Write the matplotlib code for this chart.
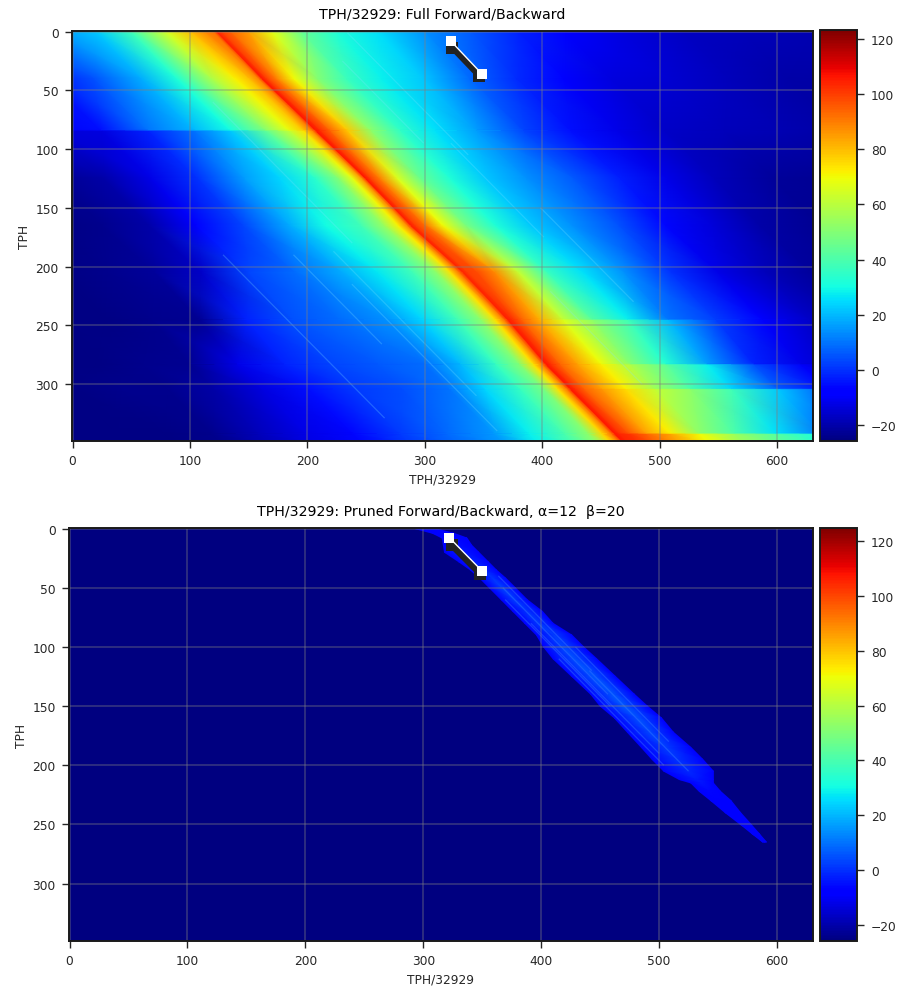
import numpy as np
import matplotlib
matplotlib.use("Agg")
import matplotlib.pyplot as plt

W, H = 904, 987

# ---- top panel: values along the diagonal bands, offset = x - 0.99*y
offsets = [-350,-300,-260,-220,-180,-140,-100,-60,-20,20,50,80,100,112,120,123,127,135,150,170,195,225,260,300,340,380,420,470,520,570,630]
shear = 0.99
row_y     = [0, 40, 84, 85, 125, 165, 205, 245, 246, 283, 284, 304, 305, 342, 343, 350]
row_shift = [0, -1, 1, 1, 3, 2, 7, 5, 5, 0, 0, 0, 0, 0, 0, 0]
r0   = [5,5,5,5,5,5,8,10,14,22,38,65,80,88,92,104,100,94,85,68,45,32,26,14,6,-2,-8,-13,-17,-18,-19]
r40  = [-5,-5,-5,-5,-5,-5,-5,-4,5,18,32,58,72,80,90,106,100,90,70,50,37,28,22,8,-1,-8,-13,-15,-18,-20,-21]
r84  = [-12,-12,-12,-12,-12,-12,-10,-5,10,20,30,50,68,78,92,106,102,94,78,52,35,26,16,3,-5,-12,-16,-18,-19,-21,-22]
r85  = [-14,-14,-14,-14,-14,-14,-14,-13,-2,10,22,44,62,74,90,106,102,94,78,52,35,26,16,3,-5,-12,-16,-18,-19,-21,-22]
r125 = [-23,-23,-23,-23,-23,-23,-20,-12,0,16,24,34,50,68,88,106,100,90,66,45,32,22,14,6,-3,-12,-18,-22,-23,-24,-24]
r165 = [-25,-25,-25,-25,-25,-24,-20,-9,3,18,30,38,54,72,90,105,100,92,70,48,32,22,14,5,-6,-14,-20,-23,-24,-25,-25]
r205 = [-25,-25,-25,-25,-24,-22,-16,3,9,18,27,38,52,74,94,104,100,98,88,62,36,26,14,0,-12,-18,-22,-24,-25,-25,-25]
r245 = [-25,-25,-25,-25,-24,-23,-2,5,9,14,24,38,52,74,92,105,102,94,82,62,42,28,10,2,-8,-16,-22,-25,-25,-25,-25]
r246 = [-25,-25,-25,-25,-24,-23,-2,5,9,14,24,38,52,74,92,105,102,94,82,66,52,38,20,2,-8,-16,-22,-25,-25,-25,-25]
r283 = [-25,-25,-25,-24,-23,-12,-2,3,6,9,20,36,50,74,92,106,102,94,84,70,50,33,16,-2,-12,-18,-24,-25,-25,-25,-25]
r284 = [-25,-25,-25,-24,-23,-12,-2,3,6,9,20,36,50,74,92,106,102,94,84,72,58,43,28,4,-10,-18,-24,-25,-25,-25,-25]
r304 = [-25,-25,-24,-24,-20,-13,-5,1,4,10,24,36,48,74,92,106,102,94,84,72,55,40,24,6,-5,-12,-20,-25,-25,-25,-25]
r305 = [-25,-25,-24,-24,-20,-13,-5,1,4,10,24,36,48,74,92,106,102,94,86,75,62,52,38,22,6,-5,-10,-25,-25,-25,-25]
r342 = [-25,-25,-25,-24,-18,-12,-6,1,8,15,28,40,52,76,92,106,102,96,84,72,52,40,26,10,0,-5,-10,-25,-25,-25,-25]
r343 = [-25,-25,-25,-24,-18,-12,-6,1,8,15,28,40,52,76,92,106,104,102,94,84,70,54,42,30,28,20,10,-25,-25,-25,-25]
r350 = r343
full_rows = [r0,r40,r84,r85,r125,r165,r205,r245,r246,r283,r284,r304,r305,r342,r343,r350]

# visible light streaks (offset, first row, last row)
streak_u  = [-60, 0, 37, 188, 228, 233, 60, 25, 205, 250]
streak_y0 = [190, 190, 187, 221, 95, 1, 60, 215, 25, 150]
streak_y1 = [329, 266, 310, 300, 175, 105, 180, 340, 95, 230]

# ---- bottom panel: pruned band
band_y     = [0,4,8,14,20,28,35,42,50,60,70,80,90,100,110,125,140,150,160,172,185,195,205,212,215,222,230,240,250,258,265]
band_left  = [293,308,316,317,318,330,340,348,356,366,376,386,396,402,410,426,442,450,462,473,485,494,504,517,527,534,544,556,569,579,588]
band_right = [310,326,337,341,347,355,362,370,378,388,401,410,426,436,447,463,479,490,502,512,527,537,546,546,546,552,561,569,578,585,591]
band_mid   = [-8,-7,-6,-5,-3,-2,-1,1,3,2,1,2,2,4,5,6,6,6,5,4,2,1,-1,-3,-4,-6,-7,-8,-9,-9,-10]
band_edge_value = -9
background_value = -25.5
beam_u  = [318, 324, 312, 330, 306, 310, 322]
beam_y0 = [50, 40, 80, 100, 110, 60, 120]
beam_y1 = [140, 120, 190, 180, 200, 150, 205]

# ---- alignment path
white_x, white_y = [322, 349], [8, 36.5]
black_x, black_y = [323.5, 346.5], [13.6, 37.6]
white2_x, white2_y = [322, 350], [7.6, 36]
black2_x, black2_y = [324, 348], [14, 38]

xticks = [0,100,200,300,400,500,600]
yticks = [0,50,100,150,200,250,300]
cticks = [-20,0,20,40,60,80,100,120]

title_top = "TPH/32929: Full Forward/Backward"
title_bot = "TPH/32929: Pruned Forward/Backward, α=12  β=20"

ink = "#262626"
fs = 8.8
plt.rcParams.update({"font.family": "DejaVu Sans", "font.size": fs, "text.color": ink,
                     "axes.labelcolor": ink, "xtick.labelcolor": ink, "ytick.labelcolor": ink})

fig = plt.figure(figsize=(W/100, H/100), dpi=100)

def box(l, t, r, b):
    return [l/W, 1-b/H, (r-l)/W, (b-t)/H]

def style(ax, title, tpad):
    ax.set_xlim(-0.5, 630.5)
    ax.set_ylim(348.5, -0.5)
    ax.set_xticks(xticks)
    ax.set_yticks(yticks)
    ax.tick_params(length=5, width=1.0, color=ink, labelsize=fs, pad=4.5)
    ax.grid(True, color="#808080", alpha=0.35, lw=1.4)
    ax.set_xlabel("TPH/32929", fontsize=fs, labelpad=4)
    ax.set_ylabel("TPH", fontsize=fs, labelpad=3.5)
    ax.set_title(title, fontsize=10.2, pad=tpad, color="black")
    for s in ax.spines.values():
        s.set_linewidth(1.4)
        s.set_color("#1a1a1a")

def cbar(mesh, pos):
    cax = fig.add_axes(pos)
    cb = fig.colorbar(mesh, cax=cax)
    cb.set_ticks(cticks)
    cb.ax.tick_params(length=5, width=1.0, color=ink, labelsize=fs, pad=5)
    cb.outline.set_linewidth(1.4)
    cb.outline.set_edgecolor("#1a1a1a")

def path(ax, bx, by, wx, wy):
    ax.plot(bx, by, "-s", color="#222222", lw=4.5, ms=9.2, mew=0, zorder=5)
    ax.plot(wx, wy, "-s", color="white", lw=1.0, ms=6.6, mew=0, zorder=6)

# top
ax1 = fig.add_axes(box(72, 32, 813, 442))
U = np.array(offsets, float)
Yv = np.array(row_y, float)
Z1 = np.array(full_rows, float)
X1 = U[None, :] + shear*Yv[:, None] + np.array(row_shift, float)[:, None]
Y1 = np.repeat(Yv[:, None], len(U), axis=1)
m1 = ax1.pcolormesh(X1, Y1, Z1, shading="gouraud", cmap="jet", vmin=-25.8, vmax=123.3)
for u, y0, y1 in zip(streak_u, streak_y0, streak_y1):
    ax1.plot([u + shear*y0, u + shear*y1], [y0, y1], color="#7fe6ff", lw=0.9, alpha=0.25,
             solid_capstyle="butt", zorder=1.2)
path(ax1, black_x, black_y, white_x, white_y)
style(ax1, title_top, 9.5)
cbar(m1, box(820, 31, 857, 442))

# bottom
ax2 = fig.add_axes(box(69, 529, 813, 942))
norm2 = plt.Normalize(-25.8, 124.7)
ax2.set_facecolor(plt.get_cmap("jet")(norm2(background_value)))
by = np.array(band_y, float)
bl, br = np.array(band_left, float), np.array(band_right, float)
X2 = np.column_stack([bl, (bl+br)/2, br])
Y2 = np.column_stack([by, by, by])
edge = np.full(len(by), float(band_edge_value))
Z2 = np.column_stack([edge, np.array(band_mid, float), edge])
m2 = ax2.pcolormesh(X2, Y2, Z2, shading="gouraud", cmap="jet", norm=norm2)
for u, y0, y1 in zip(beam_u, beam_y0, beam_y1):
    ax2.plot([u + shear*y0, u + shear*y1], [y0, y1], color="#3a7dff", lw=0.9, alpha=0.4,
             solid_capstyle="butt", zorder=1.2)
path(ax2, black2_x, black2_y, white2_x, white2_y)
style(ax2, title_bot, 9.5)
cbar(m2, box(820, 529, 857, 942))

fig.savefig("out.png", dpi=100)
